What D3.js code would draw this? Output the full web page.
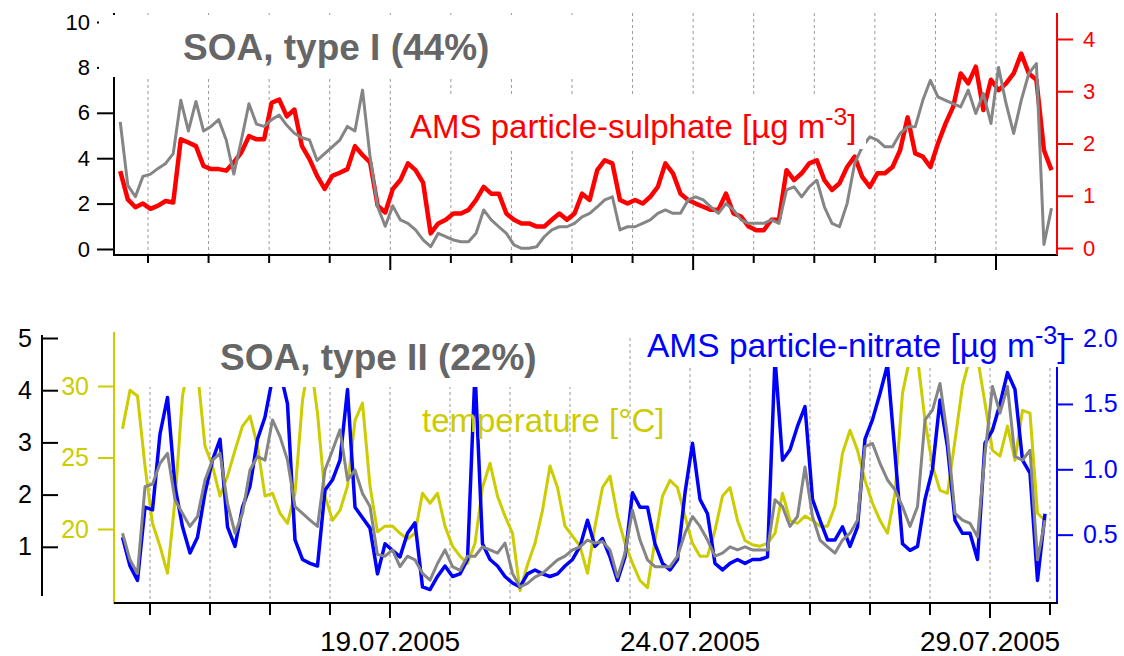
<!DOCTYPE html>
<html>
<head>
<meta charset="utf-8">
<script src="https://cdn.jsdelivr.net/npm/d3@7"></script>
<style>
  html, body { margin: 0; padding: 0; background: #fff; }
  svg { display: block; }
</style>
</head>
<body>
<div id="chart"></div>
<script>
// sampling: every 3 hours starting 14.07.2005 13:00
const startTime = Date.UTC(2005, 6, 14, 13);
const stepHours = 3;

// upper panel: SOA type I (left axis) and AMS sulphate (right axis)
const soaTypeI = [
  5.6, 2.8, 2.3, 3.2, 3.3, 3.55, 3.77, 4.2, 6.55, 5.2,
  6.5, 5.2, 5.4, 5.7, 4.8, 3.3, 4.8, 6.4, 5.5, 5.4,
  5.7, 5.9, 5.45, 5.1, 4.9, 4.8, 3.9, 4.2, 4.5, 4.8,
  5.4, 5.2, 7.0, 4.05, 1.86, 1.0, 1.9, 1.28, 1.13, 0.84,
  0.4, 0.1, 0.69, 0.54, 0.4, 0.32, 0.32, 0.69, 1.72, 1.28,
  0.98, 0.69, 0.18, 0.03, 0.03, 0.1, 0.54, 0.84, 0.98, 0.98,
  1.13, 1.42, 1.57, 1.86, 2.16, 2.3, 0.84, 0.98, 0.98, 1.13,
  1.28, 1.57, 1.72, 1.57, 1.57, 2.16, 2.3, 2.16, 1.86, 1.57,
  2.0, 1.72, 1.28, 1.13, 1.13, 1.13, 1.28, 1.13, 2.6, 2.74,
  2.3, 2.74, 3.03, 1.86, 1.13, 0.98, 2.0, 3.77, 4.5, 4.94,
  4.8, 4.5, 4.5, 5.09, 5.38, 5.38, 6.55, 7.43, 6.7, 6.55,
  6.4, 6.26, 7.0, 5.97, 6.85, 5.53, 8.0, 6.4, 5.09, 6.55,
  7.73, 8.17, 0.2, 1.8
];
const sulphate = [
  1.47, 0.93, 0.78, 0.85, 0.75, 0.81, 0.9, 0.87, 2.08, 2.02,
  1.95, 1.57, 1.51, 1.51, 1.48, 1.64, 1.83, 2.14, 2.08, 2.08,
  2.78, 2.84, 2.52, 2.65, 1.95, 1.7, 1.38, 1.13, 1.38, 1.44,
  1.51, 1.95, 1.78, 1.64, 0.81, 0.68, 1.13, 1.30, 1.62, 1.49,
  1.25, 0.28, 0.47, 0.54, 0.66, 0.66, 0.73, 0.92, 1.17, 1.04,
  1.04, 0.66, 0.54, 0.47, 0.47, 0.41, 0.41, 0.54, 0.66, 0.54,
  0.66, 1.04, 0.92, 1.49, 1.68, 1.62, 0.92, 0.85, 0.92, 0.85,
  0.98, 1.17, 1.62, 1.43, 1.04, 0.92, 0.85, 0.79, 0.73, 0.73,
  1.04, 0.66, 0.6, 0.41, 0.34, 0.34, 0.54, 0.54, 1.49, 1.3,
  1.43, 1.62, 1.68, 1.3, 1.11, 1.24, 1.55, 1.75, 1.36, 1.17,
  1.43, 1.43, 1.55, 1.87, 2.5, 1.81, 1.75, 1.55, 2.0, 2.38,
  2.7, 3.34, 3.15, 3.47, 2.64, 3.22, 3.02, 3.15, 3.34, 3.72,
  3.34, 3.22, 1.87, 1.49
];

// lower panel: SOA type II (left), temperature (second left), AMS nitrate (right)
const soaTypeII = [
  1.26, 0.75, 0.49, 2.15, 2.2, 2.6, 2.79, 1.9, 1.64, 1.39,
  1.58, 2.28, 2.66, 2.79, 1.83, 1.26, 1.64, 2.47, 2.73, 2.66,
  3.43, 3.11, 2.66, 1.77, 1.64, 1.51, 1.39, 2.47, 2.85, 3.24,
  2.28, 2.47, 2.02, 1.77, 0.85, 0.82, 0.94, 0.62, 0.82, 0.75,
  0.49, 0.36, 0.68, 0.94, 0.62, 0.55, 0.82, 0.82, 1.0, 0.94,
  0.88, 1.07, 0.49, 0.23, 0.3, 0.42, 0.49, 0.62, 0.75, 0.82,
  0.94, 1.0, 1.13, 1.07, 1.1, 0.94, 0.42, 0.88, 1.7, 1.13,
  0.75, 0.62, 0.62, 0.62, 0.82, 1.26, 1.58, 1.39, 1.13, 0.82,
  0.88, 1.0, 0.94, 1.0, 0.94, 0.94, 0.94, 1.9, 1.77, 1.39,
  1.58, 2.53, 1.58, 1.13, 1.0, 0.88, 1.13, 1.26, 1.51, 2.92,
  2.98, 2.6, 2.28, 2.09, 1.77, 1.39, 1.77, 3.43, 3.62, 4.13,
  3.11, 1.64, 1.51, 1.45, 1.19, 2.79, 4.07, 3.56, 4.07, 2.73,
  2.66, 2.85, 0.75, 1.51
];
const nitrate = [
  0.48, 0.26, 0.15, 0.71, 0.69, 1.27, 1.55, 0.87, 0.56, 0.36,
  0.48, 0.82, 1.07, 1.23, 0.56, 0.41, 0.71, 0.87, 1.23, 1.4,
  1.7, 1.75, 1.5, 0.46, 0.31, 0.28, 0.26, 0.84, 0.92, 1.07,
  1.61, 0.71, 0.63, 0.55, 0.2, 0.43, 0.38, 0.33, 0.51, 0.59,
  0.1, 0.08, 0.18, 0.26, 0.18, 0.2, 0.31, 1.75, 0.43, 0.31,
  0.26, 0.18, 0.13, 0.1, 0.2, 0.23, 0.2, 0.18, 0.2, 0.26,
  0.31, 0.41, 0.61, 0.41, 0.47, 0.33, 0.15, 0.33, 0.82, 0.71,
  0.71, 0.43, 0.28, 0.23, 0.31, 0.82, 1.2, 0.77, 0.66, 0.28,
  0.23, 0.28, 0.31, 0.28, 0.31, 0.31, 0.33, 1.85, 1.07, 1.15,
  1.33, 1.48, 0.77, 0.61, 0.46, 0.46, 0.56, 0.41, 0.56, 1.23,
  1.38, 1.58, 1.8, 1.12, 0.43, 0.38, 0.41, 0.77, 1.0, 1.53,
  1.17, 0.61, 0.51, 0.51, 0.31, 1.2, 1.3, 1.5, 1.74, 1.61,
  1.07, 0.97, 0.15, 0.66
];
const temperature = [
  27.0, 29.7, 29.3, 24.4, 20.4, 18.8, 16.9, 22.0, 29.3, 32.0,
  31.0, 25.8, 24.4, 22.3, 23.7, 25.5, 27.2, 27.9, 25.8, 22.3,
  22.5, 21.1, 20.4, 22.5, 29.0, 32.0, 28.1, 22.3, 20.6, 21.3,
  23.0, 27.6, 28.8, 23.0, 19.8, 20.2, 20.2, 19.7, 19.3, 19.7,
  22.5, 21.8, 22.5, 20.2, 18.8, 18.1, 17.6, 19.0, 22.9, 24.6,
  22.3, 20.9, 19.7, 15.7, 17.5, 19.0, 21.3, 24.4, 22.9, 20.2,
  19.5, 18.8, 16.9, 20.2, 22.9, 23.7, 20.9, 19.0, 17.6, 16.4,
  15.9, 19.2, 22.3, 23.4, 22.9, 20.9, 19.0, 18.1, 18.1, 19.9,
  22.3, 22.9, 20.6, 19.2, 18.9, 18.8, 19.0, 19.7, 22.5, 20.6,
  20.4, 20.9, 20.6, 20.2, 20.2, 21.6, 25.3, 26.9, 25.5, 23.4,
  21.8, 20.6, 19.7, 22.5, 29.5, 32.0, 32.0, 27.6, 24.4, 22.7,
  22.5, 26.2, 30.0, 32.0, 32.0, 28.8, 25.5, 25.1, 27.2, 24.8,
  28.3, 28.1, 21.1, 20.6
];

// tick values and labels
const soaITicks = [0, 2, 4, 6, 8, 10];
const sulphateTicks = [0, 1, 2, 3, 4];
const soaIITicks = [1, 2, 3, 4, 5];
const tempTicks = [20, 25, 30];
const nitrateTicks = [0.5, 1.0, 1.5, 2.0];
const dateLabels = ["19.07.2005", "24.07.2005", "29.07.2005"];

const font = "'Liberation Sans', Arial, Helvetica, sans-serif";
const yellow = "#cccc00";
const times = soaTypeI.map((_, i) => new Date(startTime + i * stepHours * 3600e3));
const parseDay = d3.utcParse("%d.%m.%Y");
const majorDays = dateLabels.map(parseDay);
const isMajor = d => majorDays.some(m => +m === +d);
const intFmt = d3.format("d");

const svg = d3.select("#chart").append("svg")
    .attr("width", 1124)
    .attr("height", 656)
    .style("font-family", font);

// scales
const xTop = d3.scaleUtc().domain([Date.UTC(2005, 6, 15), Date.UTC(2005, 6, 29)]).range([148, 996]);
const xBot = d3.scaleUtc().domain([Date.UTC(2005, 6, 15), Date.UTC(2005, 6, 30)]).range([150, 1050]);
const ySoaI = d3.scaleLinear().domain([0, 10]).range([249, 22]);
const ySul = d3.scaleLinear().domain([0, 4]).range([248, 39]);
const ySoaII = d3.scaleLinear().domain([0, 5]).range([599, 338]);
const yTemp = d3.scaleLinear().domain([20, 30]).range([529, 386]);
const yNit = d3.scaleLinear().domain([0, 2]).range([600, 338.6]);

const topDays = d3.utcDay.range(new Date(Date.UTC(2005, 6, 15)), new Date(Date.UTC(2005, 6, 29, 1)));
const botDays = d3.utcDay.range(new Date(Date.UTC(2005, 6, 15)), new Date(Date.UTC(2005, 6, 30, 1)));

const defs = svg.append("defs");
defs.append("clipPath").attr("id", "clipTop").append("rect")
    .attr("x", 115).attr("y", 13).attr("width", 941).attr("height", 241);
defs.append("clipPath").attr("id", "clipBot").append("rect")
    .attr("x", 115).attr("y", 338).attr("width", 941).attr("height", 264);

// dashed day grid
svg.append("g").selectAll("line").data(topDays).join("line")
    .attr("x1", d => xTop(d)).attr("x2", d => xTop(d))
    .attr("y1", 13).attr("y2", 255)
    .attr("stroke", "#9a9a9a").attr("stroke-width", 1).attr("stroke-dasharray", "3,3");
svg.append("g").selectAll("line").data(botDays).join("line")
    .attr("x1", d => xBot(d)).attr("x2", d => xBot(d))
    .attr("y1", 338).attr("y2", 603)
    .attr("stroke", "#9a9a9a").attr("stroke-width", 1).attr("stroke-dasharray", "3,3");

function styleAxis(g, color, size) {
  g.select(".domain").remove();
  g.selectAll("line").attr("stroke", color).attr("stroke-width", 2);
  g.selectAll("text").attr("fill", color).attr("font-size", size).attr("font-family", font);
}

// ---- upper panel axes
svg.append("line").attr("x1", 114).attr("x2", 114).attr("y1", 13).attr("y2", 256)
    .attr("stroke", "#000").attr("stroke-width", 2);
svg.append("line").attr("x1", 113).attr("x2", 1058).attr("y1", 255).attr("y2", 255)
    .attr("stroke", "#000").attr("stroke-width", 2);
svg.append("line").attr("x1", 1057).attr("x2", 1057).attr("y1", 13).attr("y2", 255)
    .attr("stroke", "red").attr("stroke-width", 2);
svg.append("g").attr("transform", "translate(114,0)")
    .call(d3.axisLeft(ySoaI).tickValues(soaITicks).tickSize(17).tickPadding(7).tickFormat(intFmt))
    .call(g => styleAxis(g, "#000", 22));
svg.append("g").attr("transform", "translate(1057,0)")
    .call(d3.axisRight(ySul).tickValues(sulphateTicks).tickSize(16).tickPadding(10).tickFormat(intFmt))
    .call(g => styleAxis(g, "red", 22));
svg.append("g").selectAll("line").data(topDays).join("line")
    .attr("x1", d => xTop(d)).attr("x2", d => xTop(d))
    .attr("y1", 255).attr("y2", d => isMajor(d) ? 270 : 263)
    .attr("stroke", "#000").attr("stroke-width", 2);

// ---- lower panel axes
svg.append("line").attr("x1", 42).attr("x2", 42).attr("y1", 335).attr("y2", 596)
    .attr("stroke", "#000").attr("stroke-width", 2);
svg.append("g").attr("transform", "translate(42,0)")
    .call(d3.axisLeft(ySoaII).tickValues(soaIITicks).tickSize(-16).tickPadding(10).tickFormat(intFmt))
    .call(g => styleAxis(g, "#000", 25));
svg.append("line").attr("x1", 114).attr("x2", 114).attr("y1", 332).attr("y2", 604)
    .attr("stroke", yellow).attr("stroke-width", 2);
svg.append("g").attr("transform", "translate(114,0)")
    .call(d3.axisLeft(yTemp).tickValues(tempTicks).tickSize(16).tickPadding(9).tickFormat(intFmt))
    .call(g => styleAxis(g, yellow, 25));
svg.append("line").attr("x1", 1057).attr("x2", 1057).attr("y1", 336).attr("y2", 603)
    .attr("stroke", "blue").attr("stroke-width", 2);
svg.append("g").attr("transform", "translate(1057,0)")
    .call(d3.axisRight(yNit).tickValues(nitrateTicks).tickSize(16).tickPadding(10)
      .tickFormat(d3.format(".1f")))
    .call(g => styleAxis(g, "blue", 25));
svg.append("line").attr("x1", 114).attr("x2", 1058).attr("y1", 603).attr("y2", 603)
    .attr("stroke", "#000").attr("stroke-width", 2);
svg.append("g").selectAll("line").data(botDays).join("line")
    .attr("x1", d => xBot(d)).attr("x2", d => xBot(d))
    .attr("y1", 603).attr("y2", d => isMajor(d) ? 618 : 615)
    .attr("stroke", "#000").attr("stroke-width", 2);
svg.append("g").selectAll("text").data(dateLabels).join("text")
    .attr("x", d => xBot(parseDay(d))).attr("y", 651)
    .attr("text-anchor", "middle").attr("font-size", 28).attr("fill", "#000")
    .text(d => d);

// ---- data
function series(g, values, x, y, color, width) {
  g.append("path")
      .datum(values)
      .attr("fill", "none")
      .attr("stroke", color)
      .attr("stroke-width", width)
      .attr("stroke-linejoin", "round")
      .attr("d", d3.line().defined(d => d != null).x((d, i) => x(times[i])).y(d => y(d)));
}
const topData = svg.append("g").attr("clip-path", "url(#clipTop)");
series(topData, sulphate, xTop, ySul, "#ff0000", 4.5);
series(topData, soaTypeI, xTop, ySoaI, "#858585", 3);

const botData = svg.append("g").attr("clip-path", "url(#clipBot)");
series(botData, temperature, xBot, yTemp, yellow, 3);
series(botData, nitrate, xBot, yNit, "#0000ff", 3.5);
series(botData, soaTypeII, xBot, ySoaII, "#858585", 3);

// ---- white label backgrounds
svg.append("rect").attr("x", 99).attr("y", 15).attr("width", 501).attr("height", 62).attr("fill", "#fff");
svg.append("rect").attr("x", 404).attr("y", 97).attr("width", 462).attr("height", 52).attr("fill", "#fff");
svg.append("rect").attr("x", 116).attr("y", 330).attr("width", 484).attr("height", 57).attr("fill", "#fff");
svg.append("rect").attr("x", 640).attr("y", 328).attr("width", 424).attr("height", 39).attr("fill", "#fff");

// ---- titles and labels
svg.append("text").attr("x", 183).attr("y", 60)
    .attr("font-size", 37).attr("font-weight", "bold").attr("fill", "#666")
    .text("SOA, type I (44%)");
svg.append("text").attr("x", 220).attr("y", 370)
    .attr("font-size", 37).attr("font-weight", "bold").attr("fill", "#666")
    .text("SOA, type II (22%)");

function unitLabel(x, y, name, color, size) {
  const t = svg.append("text").attr("x", x).attr("y", y)
      .attr("font-size", size).attr("fill", color);
  t.append("tspan").text(name + " [\u00b5g m");
  t.append("tspan").attr("dy", -13).attr("font-size", size * 0.75).text("-3");
  t.append("tspan").attr("dy", 13).text("]");
}
unitLabel(410, 138, "AMS particle-sulphate", "#ff0000", 33);
unitLabel(647, 357, "AMS particle-nitrate", "#0000ff", 33.5);

svg.append("text").attr("x", 422).attr("y", 432)
    .attr("font-size", 33).attr("fill", yellow)
    .text("temperature [\u00b0C]");
</script>
</body>
</html>
